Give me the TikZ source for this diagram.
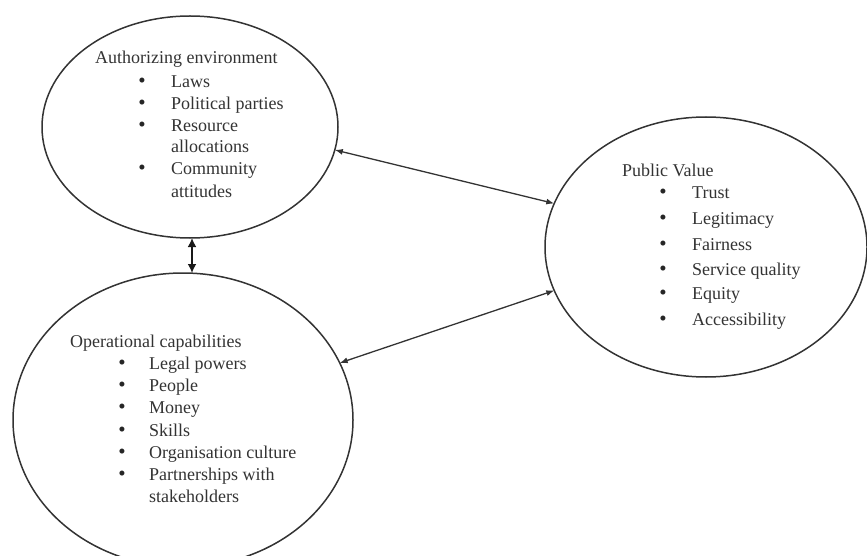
\documentclass[tikz,border=0pt]{standalone}
\usepackage{fontspec}
\setmainfont{Liberation Serif}
\usetikzlibrary{shapes.geometric,arrows.meta}
\begin{document}
\begin{tikzpicture}[x=1pt,y=-1pt,
  oval/.style={ellipse,draw=black!80,line width=1.5pt,inner sep=0pt,outer sep=0pt},
  txt/.style={anchor=base west,inner sep=0pt,text=black!80,font=\fontsize{18}{21}\selectfont},
  bul/.style={anchor=base,inner sep=0pt,text=black!85,font=\fontsize{21}{21}\selectfont},
  link/.style={line width=1.3pt,draw=black!80,{Latex[length=8pt,width=6pt]}-{Latex[length=8pt,width=6pt]}},
  biglink/.style={line width=2.8pt,draw=black!90,{Latex[length=9pt,width=9pt]}-{Latex[length=9pt,width=9pt]}}]
\clip (0,0) rectangle (867,556);
\node[oval,minimum width=296pt,minimum height=222pt] (A) at (190,127) {};
\node[oval,minimum width=340pt,minimum height=294pt] (O) at (183,420) {};
\node[oval,minimum width=322pt,minimum height=260pt] (P) at (706,247) {};
% Authorizing environment
\node[txt] (at) at (95,64) {Authorizing environment};
\foreach \t/\y/\b [count=\i] in {Laws/88/1,Political parties/110/1,Resource/132/1,allocations/153/0,Community/175/1,attitudes/197/0}{
  \node[txt] (a\i) at (171,\y) {\t};
  \ifnum\b=1 \node[bul] (ab\i) at (142,\y) {\textbullet}; \fi
}
% Operational capabilities
\node[txt] (ot) at (70,347) {Operational capabilities};
\foreach \t/\y/\b [count=\i] in {Legal powers/369/1,People/391/1,Money/413/1,Skills/436/1,Organisation culture/458/1,Partnerships with/480/1,stakeholders/502/0}{
  \node[txt] (o\i) at (149,\y) {\t};
  \ifnum\b=1 \node[bul] (ob\i) at (122,\y) {\textbullet}; \fi
}
% Public Value
\node[txt] (pt) at (622,177) {Public Value};
\foreach \t/\y [count=\i] in {Trust/199,Legitimacy/224,Fairness/250,Service quality/275,Equity/299,Accessibility/325}{
  \node[txt] (p\i) at (692,\y) {\t};
  \node[bul] (pb\i) at (663,\y) {\textbullet};
}
% connectors
\draw[link] (A.-9) -- (P.164);
\draw[link] (O.20) -- (P.-164);
\draw[biglink] ([xshift=2pt]A.south) -- ([xshift=2pt]A.south |- O.north);
\end{tikzpicture}
\end{document}
